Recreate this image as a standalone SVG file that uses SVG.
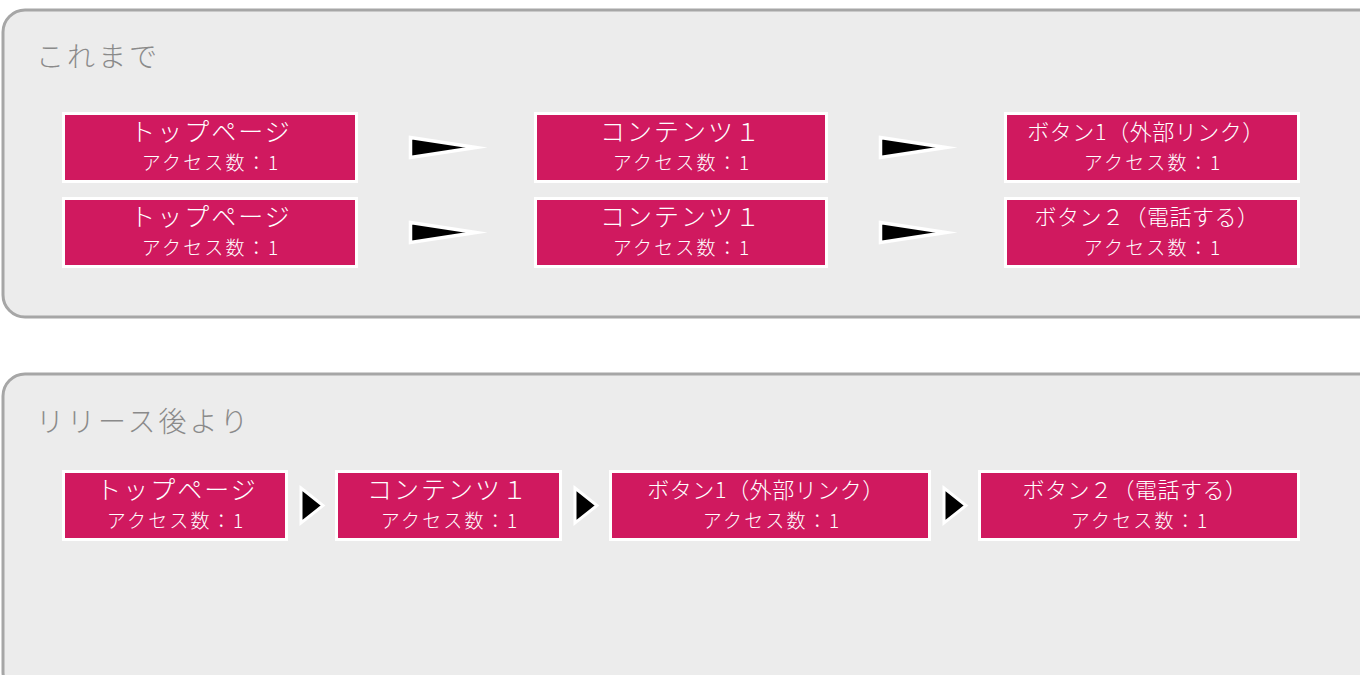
<svg xmlns="http://www.w3.org/2000/svg" width="1360" height="675" viewBox="0 0 1360 675">
<style>
.panel{fill:#ececec;stroke:#a6a6a6;stroke-width:3}
.title{font-family:"Noto Sans CJK JP","Noto Sans",sans-serif;font-size:28px;fill:#8a8a8a;letter-spacing:3px;font-weight:300}
.box{fill:#d0195f;stroke:#ffffff;stroke-width:3}
.t1{font-family:"Noto Sans CJK JP","Noto Sans",sans-serif;font-size:25px;fill:#ffffff;letter-spacing:2px;text-anchor:middle;font-weight:300}
.t1s{font-family:"Noto Sans CJK JP","Noto Sans",sans-serif;font-size:22px;fill:#ffffff;letter-spacing:0.5px;text-anchor:middle;font-weight:300}
.t2{font-family:"Noto Sans CJK JP","Noto Sans",sans-serif;font-size:19px;fill:#ffffff;letter-spacing:2.2px;text-anchor:middle;font-weight:300}
.wedge{fill:#000000;stroke:#ffffff;stroke-width:3.5;stroke-linejoin:miter;stroke-miterlimit:12}
.tri{fill:#000000;stroke:#ffffff;stroke-width:3;stroke-linejoin:miter;stroke-miterlimit:10}
</style>
<rect width="1360" height="675" fill="#ffffff"/>
<g id="panel-before">
<rect class="panel" x="3" y="10" width="1400" height="307" rx="22" ry="22"/>
<text class="title" x="36" y="67">これまで</text>
</g>
<g id="panel-after">
<rect class="panel" x="3" y="374" width="1400" height="320" rx="22" ry="22"/>
<text class="title" x="36" y="432">リリース後より</text>
</g>
<g id="connectors">
<polygon class="wedge" points="410.5,137.5 476,147.5 410.5,157.5"/>
<polygon class="wedge" points="880.5,137.5 946,147.5 880.5,157.5"/>
<polygon class="wedge" points="410.5,222.5 476,232.5 410.5,242.5"/>
<polygon class="wedge" points="880.5,222.5 946,232.5 880.5,242.5"/>
<polygon class="tri" points="301,488 323,505.5 301,523"/>
<polygon class="tri" points="575,488 597,505.5 575,523"/>
<polygon class="tri" points="944,488 966,505.5 944,523"/>
</g>
<g id="n-top-1">
<rect class="box" x="63.5" y="113.5" width="293" height="68"/>
<text class="t1" x="211" y="141">トップページ</text>
<text class="t2" x="211" y="170">アクセス数：1</text>
</g>
<g id="n-content-1">
<rect class="box" x="535.5" y="113.5" width="291" height="68"/>
<text class="t1" x="681" y="141">コンテンツ１</text>
<text class="t2" x="682" y="170">アクセス数：1</text>
</g>
<g id="n-button1-1">
<rect class="box" x="1005.5" y="113.5" width="293" height="68"/>
<text class="t1s" x="1146" y="140">ボタン1（外部リンク）</text>
<text class="t2" x="1153" y="170">アクセス数：1</text>
</g>
<g id="n-top-2">
<rect class="box" x="63.5" y="198.5" width="293" height="68"/>
<text class="t1" x="211" y="226">トップページ</text>
<text class="t2" x="211" y="255">アクセス数：1</text>
</g>
<g id="n-content-2">
<rect class="box" x="535.5" y="198.5" width="291" height="68"/>
<text class="t1" x="681" y="226">コンテンツ１</text>
<text class="t2" x="682" y="255">アクセス数：1</text>
</g>
<g id="n-button2-1">
<rect class="box" x="1005.5" y="198.5" width="293" height="68"/>
<text class="t1s" x="1147" y="225">ボタン２（電話する）</text>
<text class="t2" x="1153" y="255">アクセス数：1</text>
</g>
<g id="n-top-3">
<rect class="box" x="63.5" y="471.5" width="223" height="68"/>
<text class="t1" x="177" y="499">トップページ</text>
<text class="t2" x="176" y="528">アクセス数：1</text>
</g>
<g id="n-content-3">
<rect class="box" x="336.5" y="471.5" width="224" height="68"/>
<text class="t1" x="448" y="499">コンテンツ１</text>
<text class="t2" x="450" y="528">アクセス数：1</text>
</g>
<g id="n-button1-2">
<rect class="box" x="610.5" y="471.5" width="319" height="68"/>
<text class="t1s" x="766" y="498">ボタン1（外部リンク）</text>
<text class="t2" x="772" y="528">アクセス数：1</text>
</g>
<g id="n-button2-2">
<rect class="box" x="979.5" y="471.5" width="319" height="68"/>
<text class="t1s" x="1135" y="498">ボタン２（電話する）</text>
<text class="t2" x="1140" y="528">アクセス数：1</text>
</g>
</svg>
